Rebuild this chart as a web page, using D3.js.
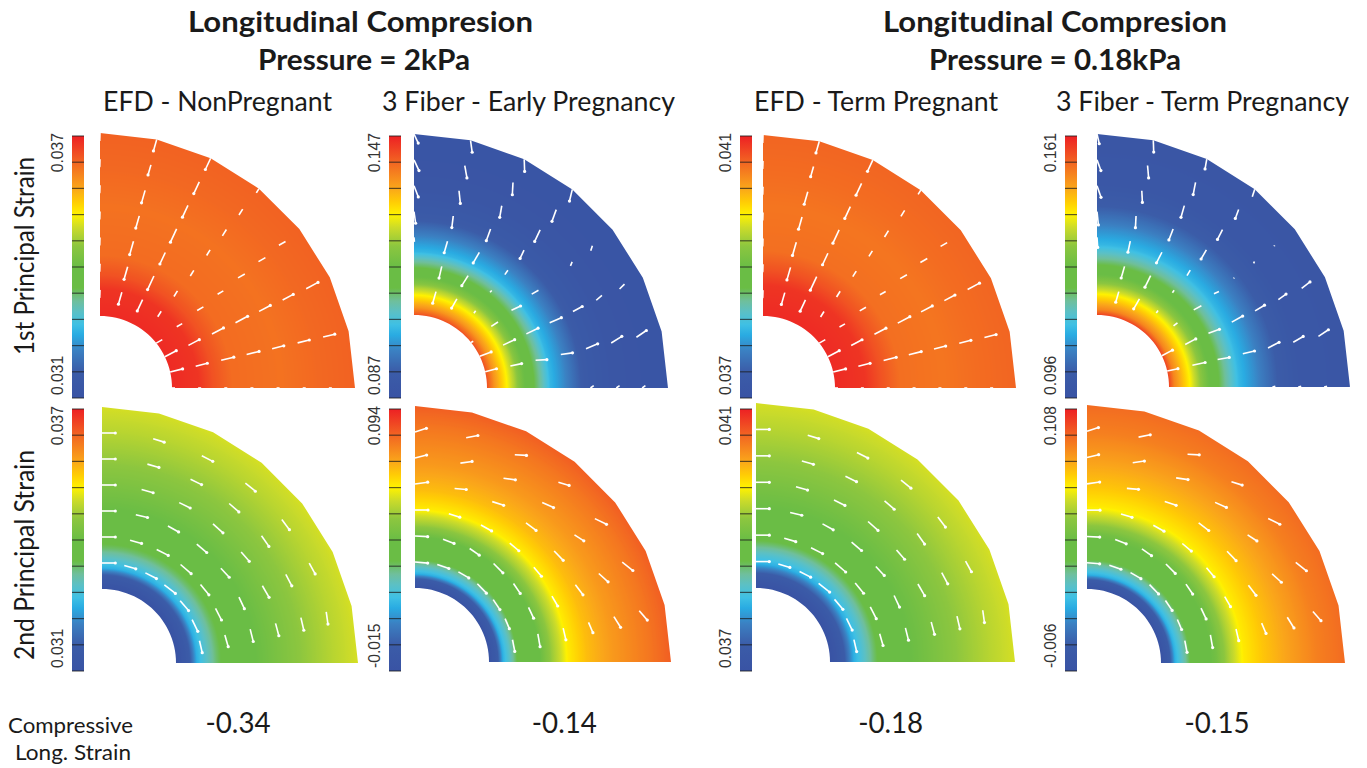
<!DOCTYPE html>
<html>
<head>
<meta charset="utf-8">
<title>Longitudinal Compresion</title>
<script src="https://cdn.jsdelivr.net/npm/d3@7"></script>
<style>
  html, body { margin: 0; background: #fff; }
  svg { display: block; }
  text { font-family: Lato, "Open Sans", sans-serif; fill: #1a1a1a; }
  .tick-label { font-family: "Liberation Sans", sans-serif; font-size: 15.7px; fill: #333; }
</style>
</head>
<body>
<div id="chart"></div>
<script>
// colour bar: position along the bar (0 bottom, 1 top) -> colour
const rampPos = [0, 0.1, 0.18, 0.24, 0.28, 0.33, 0.37, 0.42, 0.5, 0.58, 0.65, 0.7, 0.75, 0.8, 0.9, 1];
const rampCol = ["#3953a4", "#3b5ca8", "#3b80c2", "#29abe2", "#3fc0e4", "#5cc0c4", "#6fbf9c", "#6abd45", "#6abd45", "#8cc63f", "#cbdb2a", "#fff200", "#ffcb05", "#faa61a", "#f26522", "#ed2024"];

// scale limits printed beside each bar
const scaleMax = ["0.037", "0.147", "0.041", "0.161", "0.037", "0.094", "0.041", "0.108"];
const scaleMin = ["0.031", "0.087", "0.037", "0.096", "0.031", "-0.015", "0.037", "-0.006"];

// strain through the wall: wall position (0 inner, 1 outer) -> position on the bar
const wall1 = [0, 0.15, 0.22, 0.33, 0.6, 0.8, 1];
const strain1 = [0.985, 0.97, 0.93, 0.89, 0.88, 0.895, 0.905];
const wall2 = [0, 0.04, 0.11, 0.15, 0.18, 0.26, 0.3, 0.35, 0.44, 0.54, 0.7, 1];
const strain2 = [0.93, 0.83, 0.7, 0.62, 0.55, 0.42, 0.36, 0.26, 0.18, 0.08, 0.03, 0.02];
const wall3 = [0, 0.17, 0.25, 0.36, 0.6, 0.8, 1];
const strain3 = [0.985, 0.97, 0.93, 0.885, 0.875, 0.89, 0.9];
const wall4 = [0, 0.03, 0.116, 0.155, 0.19, 0.276, 0.32, 0.39, 0.486, 0.6, 0.71, 1];
const strain4 = [0.95, 0.85, 0.7, 0.62, 0.55, 0.42, 0.36, 0.26, 0.19, 0.1, 0.05, 0.03];
const wall5 = [0, 0.022, 0.077, 0.115, 0.17, 0.225, 0.28, 0.5, 0.68, 0.87, 1];
const strain5 = [0, 0.02, 0.1, 0.25, 0.33, 0.4, 0.45, 0.52, 0.58, 0.63, 0.66];
const wall6 = [0, 0.05, 0.077, 0.115, 0.154, 0.28, 0.35, 0.4, 0.435, 0.54, 0.68, 0.87, 1];
const strain6 = [0, 0.1, 0.25, 0.33, 0.42, 0.5, 0.6, 0.66, 0.71, 0.77, 0.82, 0.87, 0.91];
const wall7 = [0, 0.03, 0.08, 0.13, 0.19, 0.24, 0.29, 0.5, 0.68, 0.87, 1];
const strain7 = [0, 0.03, 0.1, 0.25, 0.33, 0.4, 0.46, 0.52, 0.58, 0.63, 0.66];
const wall8 = [0, 0.05, 0.076, 0.125, 0.158, 0.3, 0.375, 0.45, 0.56, 0.7, 0.85, 1];
const strain8 = [0, 0.1, 0.25, 0.35, 0.42, 0.52, 0.62, 0.71, 0.76, 0.81, 0.86, 0.89];

// fibre arrows: one row per spoke (0 = vertical edge, 7 = bottom edge), one column per radial node
const efd1Len = [
  [0, 8, 8, 8, 8, 8, 8, 8],
  [0, 12.3, 13, 13.8, 12.7, 13, 10.5, 12],
  [0, 12.5, 15, 12.7, 14.6, 13, 13, 12.4],
  [0, 6.5, 6.7, 6.6, 6.5, 7.5, 7, 5],
  [6.9, 6.3, 7.2, 6.6, 7.8, 8, 7.6, 0],
  [12.9, 12.3, 13, 13.7, 12.7, 12, 13.4, 0],
  [12.8, 12, 13, 12.8, 12, 12, 12, 0],
  [3, 3, 3, 3, 3, 3, 3, 3]
];
const efd1Dir = [92, 106, 115, 122, -30, -28, -14, 0];

const early1Len = [
  [0, 0, 0, 4.5, 11.8, 12, 11.8, 10],
  [0, 12, 12, 12, 11.7, 12.7, 12.5, 12],
  [0, 10.5, 11.8, 12.2, 12.4, 11.8, 12.3, 12.3],
  [0, 3, 2.4, 5.3, 9.2, 12.8, 12.4, 12],
  [2.5, 8, 10, 7.8, 0, 4.3, 5.3, 0],
  [12.2, 12.8, 13, 12.7, 10.5, 7.5, 7, 0],
  [11.7, 11.5, 11.3, 11.8, 12.7, 12.5, 12, 0],
  [0, 0, 0, 0, 4, 4, 4, 0]
];
const early1Dir = [
  [0, 0, 0, 85, 82, 69, 65, 65],
  [0, 106, 103, 106, 97, 84, 80, 82],
  [0, 120, 122, 120, 110, 100, 93, 88],
  [0, 125, 135, 125, 115, 115, 110, 104],
  [-30, -33, -25, -30, 0, 113, 108, 0],
  [-21, -25, -26, -23, -28, -41, -45, 0],
  [-15, -12, -3, -8, -23, -32, -34, 0],
  [0, 0, 0, 0, -35, -35, -35, 0]
];

const term1Len = [
  [0, 0, 0, 10, 13.4, 12.3, 11.4, 10],
  [0, 11, 12.1, 11.2, 11.7, 11.7, 12.4, 11.7],
  [0, 11.5, 13, 11.9, 11.8, 12.1, 12.5, 10],
  [0, 3, 3, 6.5, 10.6, 11, 9.6, 8],
  [0, 5, 8.7, 5.5, 1, 2, 1, 0],
  [12, 12, 11.7, 12.5, 11, 9.5, 10.6, 0],
  [11, 13, 11.8, 12, 12.4, 11.5, 12, 0],
  [0, 0, 0, 0, 3, 3, 3, 3]
];
const term1Dir = [
  [0, 0, 0, 86, 84, 71, 70, 77],
  [0, 106, 106, 102, 93, 87, 85, 88],
  [0, 120, 116, 117, 111, 106, 101, 100],
  [0, 125, 125, 120, 120, 117, 110, 108],
  [0, -38, -28, -25, 110, 110, 110, 0],
  [-28, -28, -20, -29, -31, -36, -38, 0],
  [-12, -12, -10, -13, -27, -30, -34, 0],
  [0, 0, 0, 0, -15, -15, -15, -15]
];

const efd2Len = [
  [0, 13.3, 13.3, 13.3, 13.3, 13.3, 13.3, 0],
  [0, 12, 12, 12, 12, 12, 11.5, 0],
  [0, 12.4, 13, 12.2, 12.2, 12.3, 12.3, 0],
  [0, 14, 14, 13, 13.4, 12.8, 12.8, 0],
  [0, 13, 13.3, 12.3, 12.3, 12.9, 12.6, 0],
  [0, 13, 13.1, 12.8, 13.4, 12.8, 12.2, 0],
  [0, 12.2, 12.2, 12.7, 12.8, 13, 12.4, 0],
  [0, 0, 0, 0, 0, 0, 0, 0]
];
const efd2Dir = [
  [0, 0, 0, 0, 0, 0, 0, 0],
  [0, 16, 16, 13, 16, 16, 17, 0],
  [0, 27, 27, 29, 26, 26, 27, 0],
  [0, 38, 41, 40, 42, 41, 39, 0],
  [0, 50, 51, 47, 49, 55, 53, 0],
  [0, 64, 63, 65, 60, 62, 61, 0],
  [0, 77, 74, 76, 75, 77, 82, 0],
  [0, 0, 0, 0, 0, 0, 0, 0]
];

const fiber2Len = [
  [0, 12.7, 12.7, 13, 12.8, 12, 12, 0],
  [0, 12.3, 11.8, 11.5, 11.7, 11.8, 11.9, 0],
  [0, 12, 11.7, 12.2, 12, 12, 11.7, 0],
  [0, 13, 13.2, 11.8, 12.6, 12.4, 11.2, 0],
  [0, 12, 12, 11.8, 13, 11.1, 13, 0],
  [0, 10.9, 12, 11.5, 12.6, 12.5, 13.5, 0],
  [0, 11.9, 12.9, 12, 11.2, 12.6, 12.3, 0],
  [0, 0, 0, 0, 0, 0, 0, 0]
];
const fiber2Dir = [
  [0, 5, 3, 0, -8, -14, -18, 0],
  [0, 19, 21, 17, 5, -8, -11, 0],
  [0, 30, 35, 29, 18, 8, 3, 0],
  [0, 46, 45, 40, 37, 24, 17, 0],
  [0, 56, 56, 50, 46, 33, 26, 0],
  [0, 67, 65, 60, 53, 42, 38, 0],
  [0, 79, 80, 77, 67, 58, 49, 0],
  [0, 0, 0, 0, 0, 0, 0, 0]
];

// labels
const longStrain = ["-0.34", "-0.14", "-0.18", "-0.15"];

const width = 1367, height = 768;

// where each panel sits on the page
const panels = [
  { cx: 100, cy: 388, ri: 72, ro: 255, barX: 72, barTop: 136, labelX: 63, wall: wall1, strain: strain1, len: efd1Len, dir: efd1Dir },
  { cx: 414, cy: 388, ri: 73, ro: 254, barX: 389, barTop: 136, labelX: 380, wall: wall2, strain: strain2, len: early1Len, dir: early1Dir },
  { cx: 763, cy: 388, ri: 72, ro: 253, barX: 740, barTop: 136, labelX: 731, wall: wall3, strain: strain3, len: efd1Len, dir: efd1Dir },
  { cx: 1097, cy: 387, ri: 72, ro: 253, barX: 1065, barTop: 136, labelX: 1056, wall: wall4, strain: strain4, len: term1Len, dir: term1Dir },
  { cx: 102, cy: 663, ri: 74, ro: 256, barX: 72, barTop: 409, labelX: 63, wall: wall5, strain: strain5, len: efd2Len, dir: efd2Dir },
  { cx: 415, cy: 662, ri: 74, ro: 256, barX: 389, barTop: 409, labelX: 380, wall: wall6, strain: strain6, len: fiber2Len, dir: fiber2Dir },
  { cx: 756, cy: 662, ri: 74, ro: 259, barX: 740, barTop: 409, labelX: 731, wall: wall7, strain: strain7, len: efd2Len, dir: efd2Dir },
  { cx: 1087, cy: 663, ri: 74, ro: 258, barX: 1065, barTop: 409, labelX: 1056, wall: wall8, strain: strain8, len: fiber2Len, dir: fiber2Dir }
];

const svg = d3.select("#chart").append("svg")
  .attr("width", width)
  .attr("height", height)
  .attr("viewBox", [0, 0, width, height]);

const defs = svg.append("defs");

// the picture is a slightly soft raster, so soften the arrows a little
defs.append("filter").attr("id", "soft")
  .append("feGaussianBlur").attr("stdDeviation", 0.4);

const ramp = d3.scaleLinear().domain(rampPos).range(rampCol).interpolate(d3.interpolateRgb);

// 7 straight facets on the outer edge, a smoother inner edge
const outerAngles = d3.range(8).map(i => i * (Math.PI / 2) / 7);
const innerAngles = d3.range(29).map(i => i * (Math.PI / 2) / 28).reverse();
const radial = d3.lineRadial().angle(d => d[0]).radius(d => d[1]);

panels.forEach((p, i) => {
  const g = svg.append("g");

  // gradient through the wall (user space of the translated path, so centred on 0,0)
  const wallScale = d3.scaleLinear().domain(p.wall).range(p.strain);
  const grad = defs.append("radialGradient")
    .attr("id", "wall" + i)
    .attr("gradientUnits", "userSpaceOnUse")
    .attr("cx", 0).attr("cy", 0).attr("r", p.ro + 2);
  const rScale = d3.scaleLinear().domain([0, 1]).range([p.ri, p.ro]);
  d3.range(0, 1.0001, 0.005).forEach(t => {
    grad.append("stop")
      .attr("offset", rScale(t) / (p.ro + 2))
      .attr("stop-color", ramp(wallScale(t)));
  });

  const outline = radial(outerAngles.map(a => [a, p.ro])) +
    radial(innerAngles.map(a => [a, p.ri])).replace("M", "L") + "Z";
  g.append("path")
    .attr("transform", `translate(${p.cx},${p.cy})`)
    .attr("d", outline)
    .attr("fill", `url(#wall${i})`);

  // arrows on the polar grid
  const node = d3.scaleLinear().domain([0, 7]).range([p.ri, p.ro]);
  const arrows = [];
  p.len.forEach((row, s) => {
    row.forEach((len, k) => {
      if (len === 0) return;
      const deg = Array.isArray(p.dir[s]) ? p.dir[s][k] : p.dir[s];
      const a = outerAngles[s];
      const x0 = p.cx + node(k) * Math.sin(a);
      const y0 = p.cy - node(k) * Math.cos(a);
      const d = deg * Math.PI / 180;
      arrows.push({ x0, y0, x1: x0 + len * Math.cos(d), y1: y0 + len * Math.sin(d), len });
    });
  });
  const ga = g.append("g").attr("filter", "url(#soft)");
  ga.selectAll("line").data(arrows).join("line")
    .attr("x1", d => d.x0).attr("y1", d => d.y0)
    .attr("x2", d => d.x1).attr("y2", d => d.y1)
    .attr("stroke", "#fff").attr("stroke-width", 1.6);
  ga.selectAll("circle").data(arrows.filter(d => d.len > 9)).join("circle")
    .attr("cx", d => d.x1).attr("cy", d => d.y1)
    .attr("r", 1.6).attr("fill", "#fff");

  // colour bar
  const barH = 262, barW = 12;
  const barScale = d3.scaleLinear().domain([0, 1]).range([p.barTop + barH, p.barTop]);
  const bg = defs.append("linearGradient")
    .attr("id", "bar" + i)
    .attr("x1", 0).attr("y1", 1).attr("x2", 0).attr("y2", 0);
  rampPos.forEach((pos, j) => {
    bg.append("stop").attr("offset", pos).attr("stop-color", rampCol[j]);
  });
  g.append("rect")
    .attr("x", p.barX).attr("y", p.barTop)
    .attr("width", barW).attr("height", barH)
    .attr("fill", `url(#bar${i})`);
  g.append("g").selectAll("line").data(d3.range(0, 1.01, 0.1)).join("line")
    .attr("x1", p.barX).attr("x2", p.barX + barW)
    .attr("y1", d => barScale(d)).attr("y2", d => barScale(d))
    .attr("stroke", "#1d1d1d").attr("stroke-opacity", 0.7).attr("stroke-width", 1.2);

  // bar limits, rotated
  g.append("text").attr("class", "tick-label")
    .attr("transform", `translate(${p.labelX},${p.barTop - 3}) rotate(-90)`)
    .attr("text-anchor", "end")
    .text(scaleMax[i]);
  g.append("text").attr("class", "tick-label")
    .attr("transform", `translate(${p.labelX},${p.barTop + barH - 3}) rotate(-90)`)
    .attr("text-anchor", "start")
    .text(scaleMin[i]);
});

// text fitted to the width it has in the picture
function label(str, x, y, w, size, weight) {
  return svg.append("text")
    .attr("x", x).attr("y", y)
    .attr("font-size", size)
    .attr("font-weight", weight || 400)
    .attr("textLength", w)
    .attr("lengthAdjust", "spacingAndGlyphs")
    .text(str);
}

label("Longitudinal Compresion", 188, 32, 345, 29, 700);
label("Pressure = 2kPa", 258, 70, 212, 29, 700);
label("Longitudinal Compresion", 883, 32, 344, 29, 700);
label("Pressure = 0.18kPa", 929, 70, 252, 29, 700);

label("EFD - NonPregnant", 103, 111, 229, 26);
label("3 Fiber - Early Pregnancy", 382, 111, 293, 26);
label("EFD - Term Pregnant", 754, 111, 244, 26);
label("3 Fiber - Term Pregnancy", 1056, 111, 293, 26);

// row titles
[["1st Principal Strain", 355, 198], ["2nd Principal Strain", 660, 210]].forEach(d => {
  svg.append("text")
    .attr("transform", `translate(34,${d[1]}) rotate(-90)`)
    .attr("font-size", 26)
    .attr("textLength", d[2])
    .attr("lengthAdjust", "spacingAndGlyphs")
    .text(d[0]);
});

label("Compressive", 8, 733, 125, 22);
label("Long. Strain", 15, 760, 116, 22);

const strainX = d3.scalePoint().domain(longStrain).range([238, 1217]);
svg.append("g").selectAll("text").data(longStrain).join("text")
  .attr("x", d => strainX(d))
  .attr("y", 733)
  .attr("text-anchor", "middle")
  .attr("font-size", 29)
  .attr("textLength", 65)
  .attr("lengthAdjust", "spacingAndGlyphs")
  .text(d => d);
</script>
</body>
</html>
